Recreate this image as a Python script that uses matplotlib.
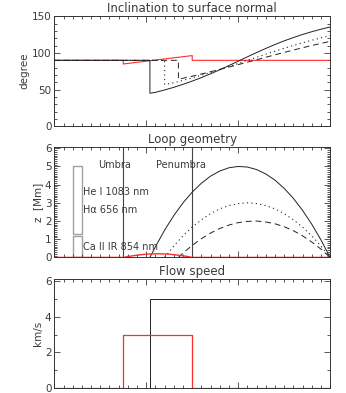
import matplotlib
matplotlib.use("Agg")
import matplotlib.pyplot as plt
from matplotlib.patches import Rectangle
from matplotlib.ticker import MultipleLocator, NullFormatter

# horizontal position along the loop (arbitrary units, 0-30)
umbra_edge = 7.5
penumbra_edge = 15.0

# --- inclination to surface normal (degree) ---
incl_red_x = [0, 7.5, 7.5, 15, 15, 30]
incl_red_y = [90, 90, 85, 96.5, 90, 90]

incl_solid_x = [0, 10.4, 10.4, 11, 12, 13, 14, 15, 16, 17, 18, 19, 20, 21, 22, 23, 24, 25, 26, 27, 28, 29, 30]
incl_solid_y = [90, 90, 45, 46.2, 49.5, 53.1, 57.2, 61.6, 66.4, 71.6, 77.1, 82.9, 88.8, 94.8, 100.6,
                106.2, 111.6, 116.6, 121.1, 125.3, 129.1, 132.5, 135.6]

incl_dot_x = [0, 12, 12, 13, 14, 15, 16, 17, 18, 19, 20, 21, 22, 23, 24, 25, 26, 27, 28, 29, 30]
incl_dot_y = [90, 90, 57, 59.3, 62.6, 66.1, 69.7, 73.5, 77.5, 81.6, 85.8, 90, 94.2, 98.4, 102.5,
              106.5, 110.3, 113.9, 117.4, 120.7, 123.7]

incl_dash_x = [0, 13.5, 13.5, 14, 15, 16, 17, 18, 19, 20, 21, 22, 23, 24, 25, 26, 27, 28, 29, 30]
incl_dash_y = [90, 90, 64.1, 65.5, 68.3, 71.3, 74.4, 77.6, 80.8, 84.1, 87.5, 90.8, 94.2, 97.5,
               100.8, 104.0, 107.2, 110.2, 113.1, 115.9]

# --- loop geometry, height z [Mm] ---
loop_solid_x = [10.4, 11, 12, 13, 14, 15, 16, 17, 18, 19, 20, 21, 22, 23, 24, 25, 26, 27, 28, 29, 30]
loop_solid_z = [0, 0.59, 1.50, 2.30, 3.00, 3.59, 4.08, 4.47, 4.75, 4.93, 5.00, 4.97, 4.83, 4.59,
                4.25, 3.80, 3.25, 2.59, 1.83, 0.97, 0]

loop_dot_x = [12, 13, 14, 15, 16, 17, 18, 19, 20, 21, 22, 23, 24, 25, 26, 27, 28, 29, 30]
loop_dot_z = [0, 0.63, 1.19, 1.67, 2.07, 2.41, 2.67, 2.85, 2.96, 3.00, 2.96, 2.85, 2.67, 2.41,
              2.07, 1.67, 1.19, 0.63, 0]

loop_dash_x = [13.5, 14, 15, 16, 17, 18, 19, 20, 21, 22, 23, 24, 25, 26, 27, 28, 29, 30]
loop_dash_z = [0, 0.24, 0.66, 1.03, 1.34, 1.59, 1.78, 1.91, 1.98, 2.00, 1.95, 1.85, 1.69, 1.47,
               1.19, 0.85, 0.46, 0]

loop_red_x = [0, 7.5, 8, 9, 10, 11.25, 12.5, 13.5, 14.5, 15, 30]
loop_red_z = [0, 0, 0.05, 0.12, 0.18, 0.2, 0.18, 0.12, 0.05, 0, 0]

# formation height ranges of the lines (x0, x1, z0, z1)
line_boxes = [(2.0, 3.0, 1.3, 5.0), (2.0, 3.0, 0.0, 1.2)]
line_labels = ["He I 1083 nm", "H\u03b1 656 nm", "Ca II IR 854 nm"]
line_label_z = [3.6, 2.6, 0.6]

# --- flow speed (km/s) ---
flow_red_x = [0, 7.5, 7.5, 15, 15, 30]
flow_red_v = [0, 0, 3, 3, 0, 0]
flow_black_x = [0, 10.4, 10.4, 30]
flow_black_v = [0, 0, 5, 5]

RED = "#ff2a2a"
DARK = "#222222"
GRAY = "#a0a0a0"
TXT = "#3a3a3a"

plt.rcParams["font.family"] = ["DejaVu Sans"]
fig = plt.figure(figsize=(3.46, 3.93), dpi=100)

left, width = 0.157, 0.797
ax1 = fig.add_axes([left, 0.679, width, 0.281])
ax2 = fig.add_axes([left, 0.345, width, 0.280])
ax3 = fig.add_axes([left, 0.012, width, 0.278])


def style(ax, ymin, ymax, ymaj, ymin_step, title, ylabel, pad):
    ax.set_xlim(0, 30)
    ax.set_ylim(ymin, ymax)
    ax.xaxis.set_major_locator(MultipleLocator(10))
    ax.xaxis.set_minor_locator(MultipleLocator(1))
    ax.xaxis.set_major_formatter(NullFormatter())
    ax.yaxis.set_major_locator(MultipleLocator(ymaj))
    ax.yaxis.set_minor_locator(MultipleLocator(ymin_step))
    ax.tick_params(which="both", direction="in", top=True, right=True, width=0.6, labelsize=7.5,
                   colors=TXT, pad=2)
    ax.tick_params(which="major", length=4)
    ax.tick_params(which="minor", length=2)
    for s in ax.spines.values():
        s.set_linewidth(0.7)
        s.set_color("#333333")
    ax.set_title(title, fontsize=8.5, color=TXT, pad=3)
    ax.set_ylabel(ylabel, fontsize=7.5, color=TXT, labelpad=pad)


style(ax1, 0, 151, 50, 10, "Inclination to surface normal", "degree", 1.5)
ax1.plot(incl_red_x, incl_red_y, color=RED, lw=0.8)
ax1.plot(incl_solid_x, incl_solid_y, color=DARK, lw=0.7)
ax1.plot(incl_dot_x, incl_dot_y, color=DARK, lw=0.8, ls=(0, (1, 3)))
ax1.plot(incl_dash_x, incl_dash_y, color=DARK, lw=0.7, ls=(0, (6, 4)))

style(ax2, 0, 6.05, 1, 0.1, "Loop geometry", "z  [Mm]", 1.5)
ax2.axvline(umbra_edge, color="#444444", lw=0.8)
ax2.axvline(penumbra_edge, color="#444444", lw=0.8)
for x0, x1, z0, z1 in line_boxes:
    ax2.add_patch(Rectangle((x0, z0), x1 - x0, z1 - z0, fill=False, ec=GRAY, lw=1.0))
ax2.plot(loop_solid_x, loop_solid_z, color=DARK, lw=0.7)
ax2.plot(loop_dot_x, loop_dot_z, color=DARK, lw=0.8, ls=(0, (1, 3)))
ax2.plot(loop_dash_x, loop_dash_z, color=DARK, lw=0.7, ls=(0, (6, 4)))
ax2.plot(loop_red_x, loop_red_z, color=RED, lw=1.0)
ax2.text(4.75, 5.1, "Umbra", fontsize=7, color=TXT, va="center")
ax2.text(11.05, 5.1, "Penumbra", fontsize=7, color=TXT, va="center")
for lab, z in zip(line_labels, line_label_z):
    ax2.text(3.15, z, lab, fontsize=7, color=TXT, va="center")

style(ax3, 0, 6.1, 2, 1, "Flow speed", "km/s", 1.5)
ax3.plot(flow_black_x, flow_black_v, color=DARK, lw=0.7)
ax3.plot(flow_red_x, flow_red_v, color=RED, lw=0.9)

fig.savefig("out.png", dpi=100)
